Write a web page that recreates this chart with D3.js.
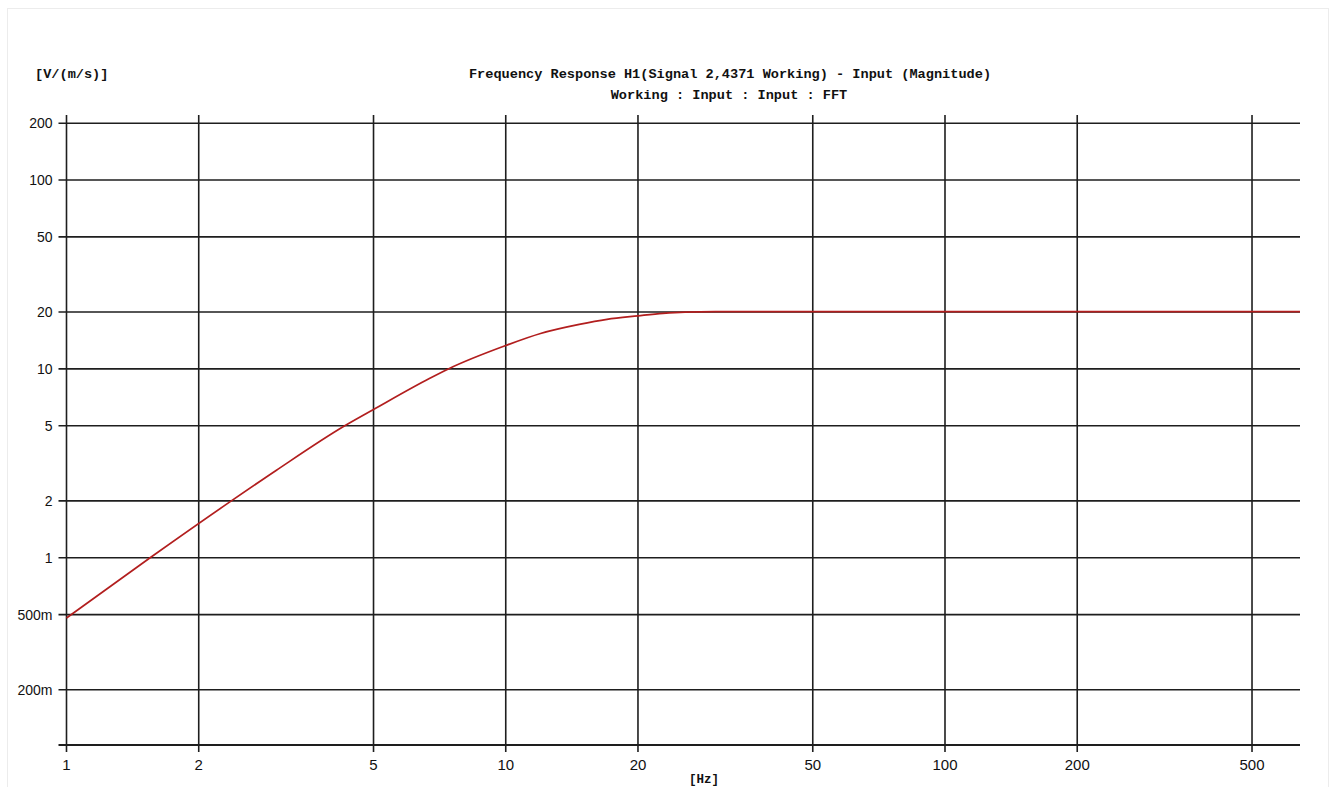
<!DOCTYPE html>
<html>
<head>
<meta charset="utf-8">
<script src="https://cdn.jsdelivr.net/npm/d3@7"></script>
<style>
  body { margin: 0; background: #fff; }
  #plot { width: 1336px; height: 787px; }
</style>
</head>
<body>
<div id="plot"></div>
<script>
// frequency (Hz) and magnitude
const freqs = [1, 1.55, 2.35, 3, 4.3, 5, 6.7, 7.4, 10, 12, 14.7, 17, 20, 22.8, 25.6, 30, 40, 60, 100, 200, 400, 643];
const mags  = [0.48, 1.0, 1.97, 2.9, 5.0, 6.1, 8.9, 10.0, 13.3, 15.4, 17.2, 18.3, 19.1, 19.7, 20.0, 20.1, 20.1, 20.1, 20.1, 20.1, 20.1, 20.1];

const xTicks = [1, 2, 5, 10, 20, 50, 100, 200, 500];
const xTickLabels = ["1", "2", "5", "10", "20", "50", "100", "200", "500"];
const yTicks = [0.2, 0.5, 1, 2, 5, 10, 20, 50, 100, 200];
const yTickLabels = ["200m", "500m", "1", "2", "5", "10", "20", "50", "100", "200"];

const data = freqs.map((f, i) => ({f: f, v: mags[i]}));

// set the dimensions and margins of the graph
const margin = {top: 115, right: 36, bottom: 42, left: 66.5},
    width = 1336 - margin.left - margin.right,
    height = 787 - margin.top - margin.bottom;

const root = d3.select("#plot")
    .append("svg")
    .attr("width", 1336)
    .attr("height", 787);

// faint frame round the picture
root.append("rect")
    .attr("x", 7.5).attr("y", 8.5)
    .attr("width", 1321).attr("height", 790)
    .attr("fill", "none")
    .attr("stroke", "#ececec");

const svg = root.append("g")
    .attr("transform", "translate(" + margin.left + "," + margin.top + ")");

const x = d3.scaleLog().domain([1, 643]).range([0, width]);
const y = d3.scaleLog().domain([0.102, 221]).range([height, 0]);

const gridColor = "#1e1e1e";

// horizontal grid + y ticks
svg.append("g")
    .selectAll("line")
    .data(yTicks)
    .enter()
    .append("line")
    .attr("x1", -8)
    .attr("x2", width)
    .attr("y1", d => y(d))
    .attr("y2", d => y(d))
    .attr("stroke", gridColor)
    .attr("stroke-width", 1.6);

// vertical grid + x ticks
svg.append("g")
    .selectAll("line")
    .data(xTicks)
    .enter()
    .append("line")
    .attr("x1", d => x(d))
    .attr("x2", d => x(d))
    .attr("y1", 0)
    .attr("y2", height + 7)
    .attr("stroke", gridColor)
    .attr("stroke-width", 1.6);

// bottom axis line
svg.append("line")
    .attr("x1", -8).attr("x2", width)
    .attr("y1", height).attr("y2", height)
    .attr("stroke", gridColor)
    .attr("stroke-width", 1.8);

// y labels
svg.append("g")
    .selectAll("text")
    .data(yTicks)
    .enter()
    .append("text")
    .attr("x", -14)
    .attr("y", d => y(d))
    .attr("dy", "0.36em")
    .attr("text-anchor", "end")
    .style("font-family", "Liberation Sans, Arial, sans-serif")
    .style("font-size", "14px")
    .style("fill", "#111")
    .text((d, i) => yTickLabels[i]);

// x labels
svg.append("g")
    .selectAll("text")
    .data(xTicks)
    .enter()
    .append("text")
    .attr("x", d => x(d))
    .attr("y", height + 25)
    .attr("text-anchor", "middle")
    .style("font-family", "Liberation Sans, Arial, sans-serif")
    .style("font-size", "15px")
    .style("fill", "#111")
    .text((d, i) => xTickLabels[i]);

// response curve
svg.append("path")
    .datum(data)
    .attr("fill", "none")
    .attr("stroke", "#b21e1e")
    .attr("stroke-width", 1.7)
    .attr("d", d3.line()
        .curve(d3.curveMonotoneX)
        .x(d => x(d.f))
        .y(d => y(d.v))
    );

// texts
const mono = "Liberation Mono, DejaVu Sans Mono, monospace";
root.append("text")
    .attr("x", 730).attr("y", 78)
    .attr("text-anchor", "middle")
    .style("font-family", mono).style("font-weight", "bold")
    .style("font-size", "13.6px").style("fill", "#111")
    .text("Frequency Response H1(Signal 2,4371 Working) - Input (Magnitude)");
root.append("text")
    .attr("x", 729).attr("y", 99)
    .attr("text-anchor", "middle")
    .style("font-family", mono).style("font-weight", "bold")
    .style("font-size", "13.6px").style("fill", "#111")
    .text("Working : Input : Input : FFT");
root.append("text")
    .attr("x", 35).attr("y", 78)
    .style("font-family", mono).style("font-weight", "bold")
    .style("font-size", "13.6px").style("fill", "#111")
    .text("[V/(m/s)]");
root.append("text")
    .attr("x", 704).attr("y", 783)
    .attr("text-anchor", "middle")
    .style("font-family", mono).style("font-weight", "bold")
    .style("font-size", "12.5px").style("fill", "#111")
    .text("[Hz]");
</script>
</body>
</html>
